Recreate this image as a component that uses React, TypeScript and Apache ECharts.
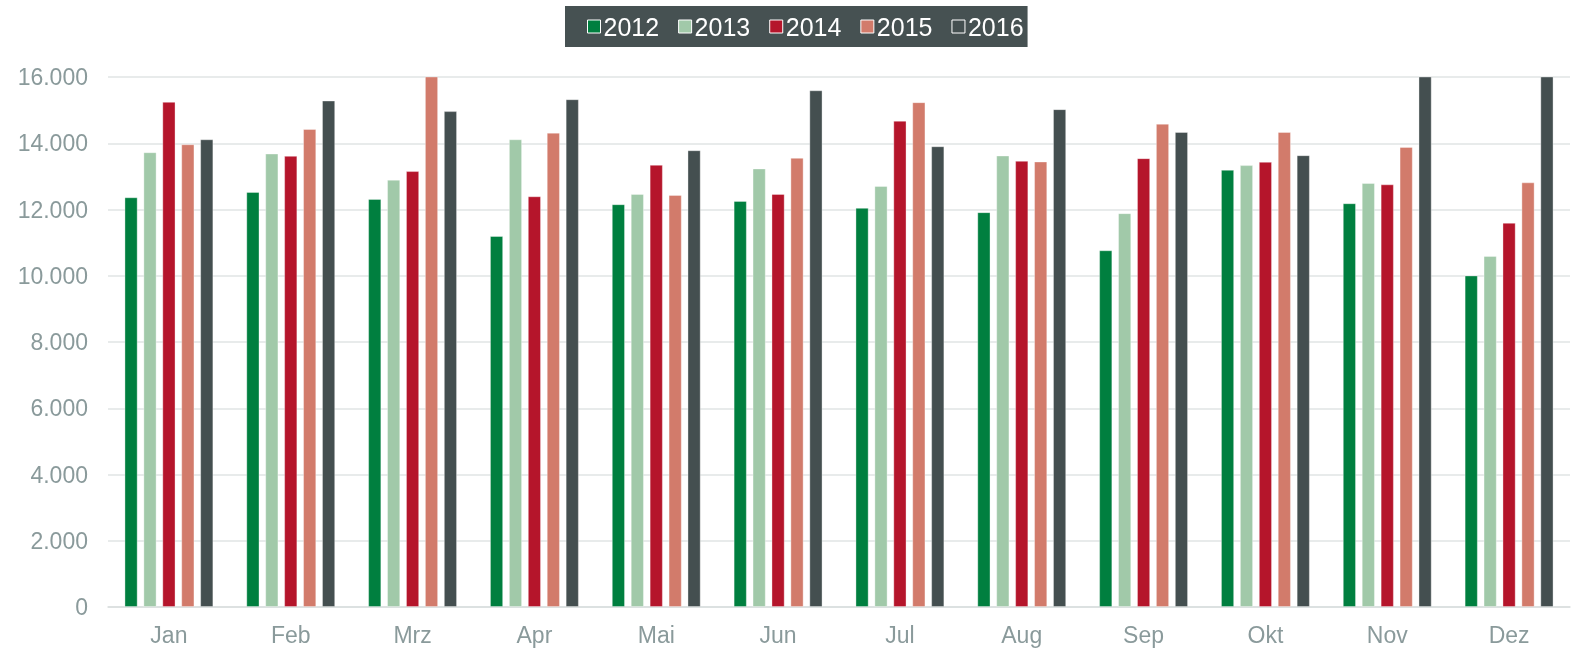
import React, { useEffect, useRef } from "react";
import * as echarts from "echarts";

const months = ["Jan", "Feb", "Mrz", "Apr", "Mai", "Jun", "Jul", "Aug", "Sep", "Okt", "Nov", "Dez"];
const years = ["2012", "2013", "2014", "2015", "2016"];
const v2012 = [12370, 12530, 12320, 11200, 12160, 12260, 12050, 11920, 10770, 13200, 12190, 10010];
const v2013 = [13730, 13690, 12900, 14120, 12470, 13240, 12710, 13630, 11890, 13340, 12800, 10600];
const v2014 = [15250, 13620, 13160, 12400, 13350, 12470, 14680, 13470, 13550, 13440, 12760, 11600];
const v2015 = [13970, 14430, 16300, 14320, 12440, 13560, 15240, 13450, 14590, 14340, 13890, 12820];
const v2016 = [14120, 15290, 14970, 15330, 13790, 15600, 13910, 15030, 14340, 13640, 16800, 17100];
const colors = ["#007F3F", "#A1C9A9", "#B5152B", "#D27B6B", "#444F50"];
const yTicks = [0, 2000, 4000, 6000, 8000, 10000, 12000, 14000, 16000];

const font = "'Liberation Sans', Arial, sans-serif";

export default function App() {
  const ref = useRef<HTMLDivElement>(null);
  useEffect(() => {
    if (!ref.current) return;
    const chart = echarts.init(ref.current, undefined, { renderer: "svg" });
    const data = [v2012, v2013, v2014, v2015, v2016];
    chart.setOption({
      animation: false,
      textStyle: { fontFamily: font },
      legend: {
        top: 6,
        left: 565,
        data: years,
        icon: "rect",
        backgroundColor: "#465152",
        padding: [8, 4, 8, 22],
        itemWidth: 13,
        itemHeight: 13,
        itemGap: 19,
        itemStyle: { borderColor: "#ffffff", borderWidth: 1 },
        textStyle: { color: "#ffffff", fontSize: 25, fontFamily: font, padding: [0, 0, 0, -2] },
      },
      grid: { left: 108, right: 5, top: 77, bottom: 41 },
      xAxis: {
        type: "category",
        data: months,
        axisLine: { lineStyle: { color: "#D9DEDE", width: 1.5 } },
        axisTick: { show: false },
        axisLabel: { color: "#8A9A9B", fontSize: 23, margin: 16, fontFamily: font },
      },
      yAxis: {
        type: "value",
        min: yTicks[0],
        max: yTicks[yTicks.length - 1],
        interval: 2000,
        axisLine: { show: false },
        axisTick: { show: false },
        splitLine: { lineStyle: { color: "#E1E5E5", width: 1.5 } },
        axisLabel: {
          color: "#8A9A9B",
          fontSize: 23,
          margin: 20,
          fontFamily: font,
          formatter: (v: number) => v.toString().replace(/\B(?=(\d{3})+(?!\d))/g, "."),
        },
      },
      series: years.map((y, i) => ({
        name: y,
        type: "bar",
        data: data[i],
        clip: true,
        barGap: "43%",
        barCategoryGap: "27%",
        itemStyle: { color: colors[i], borderColor: "rgba(255,255,255,0.35)", borderWidth: 1 },
      })),
    });
    return () => chart.dispose();
  }, []);
  return <div ref={ref} style={{ position: "fixed", left: 0, top: 0, width: 1575, height: 648 }} />;
}
